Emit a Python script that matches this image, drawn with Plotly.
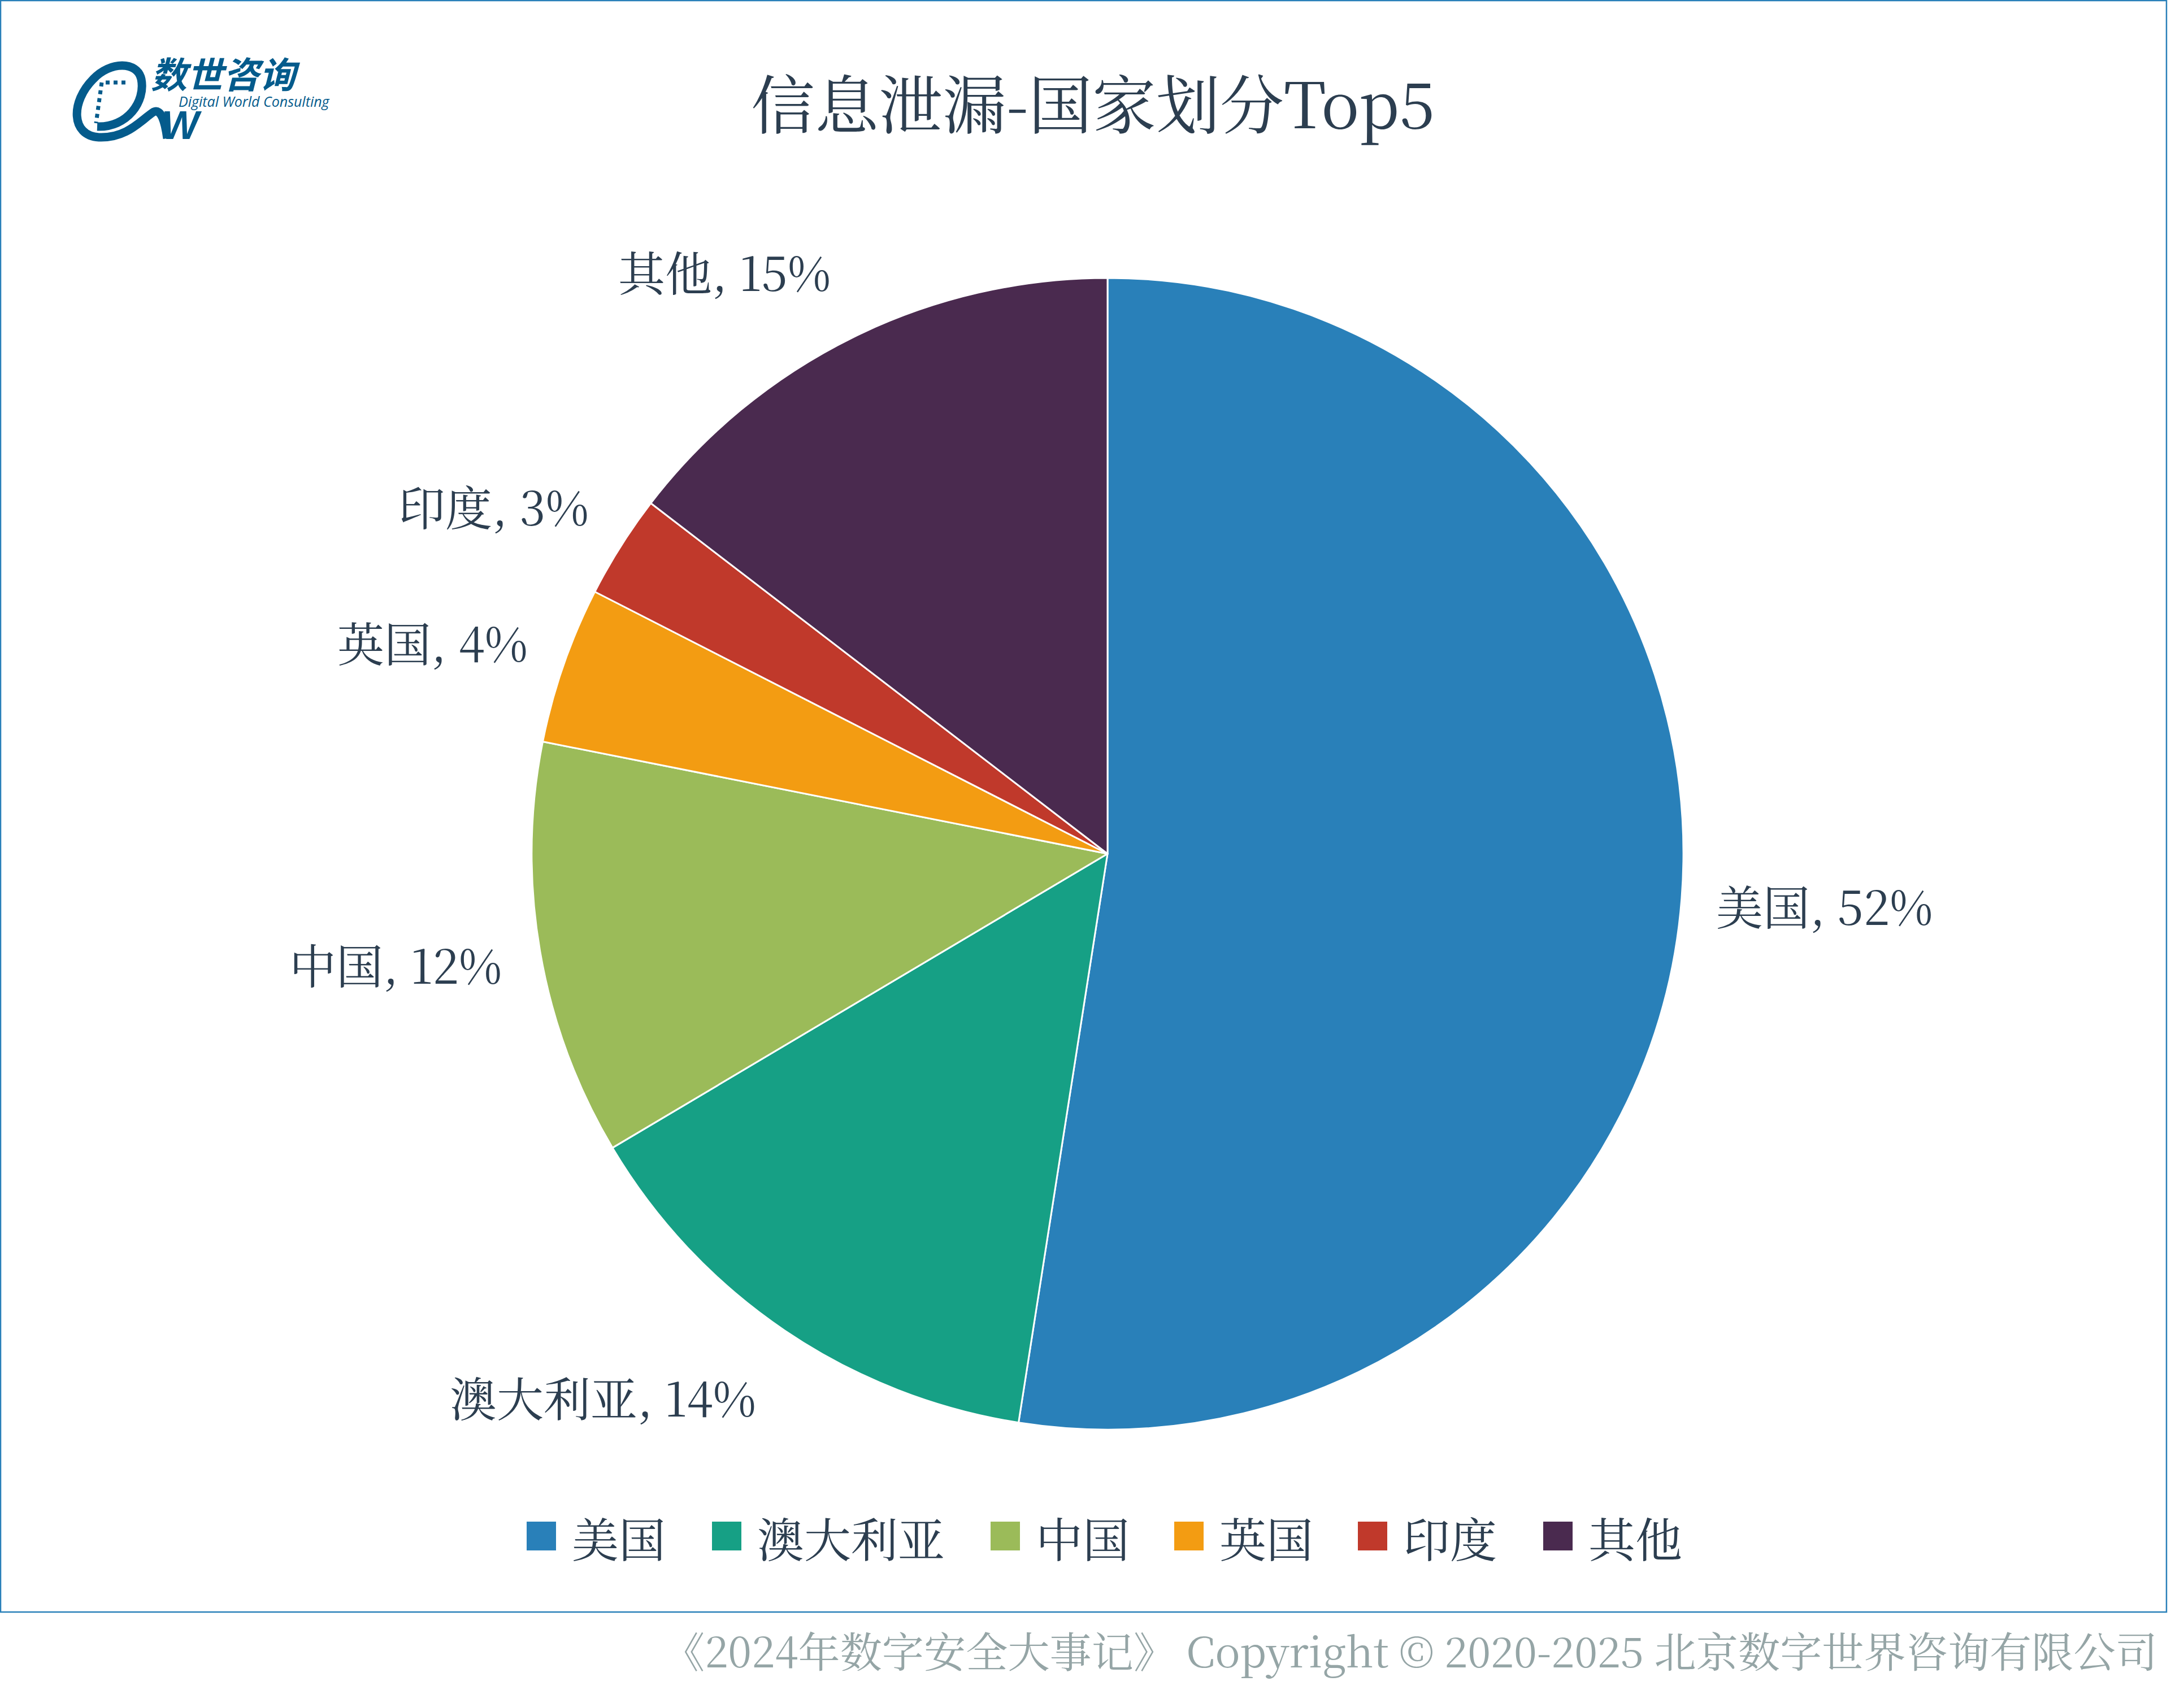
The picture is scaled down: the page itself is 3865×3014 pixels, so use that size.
import plotly.graph_objects as go

W, H = 3865, 3014

labels = ["美国", "澳大利亚", "中国", "英国", "印度", "其他"]
values = [52.47, 14.0, 11.65, 4.4, 2.9, 14.58]
colors = ["#2980b9", "#16a085", "#9bbb59", "#f39c12", "#c0392b", "#4a2a4f"]

title = "信息泄漏-国家划分Top5"
footer = "《2024年数字安全大事记》 Copyright © 2020-2025 北京数字世界咨询有限公司"

# serif first, the CJK sans is only the fallback
serif = "Noto Serif CJK SC, Liberation Serif, Noto Sans CJK SC"
logo_font = "Noto Sans CJK SC"
ink = "#2c3e50"
logo_blue = "#045b8c"

# px positions, same order as labels
legend_x = [932, 1260, 1753, 2078, 2403, 2731]
label_x = [3229, 1067, 700, 765, 873, 1282]
label_y = [1601, 2471, 1705, 1135, 894, 479]

# pie centre and radius in px
cx, cy, radius = 1960, 1511, 1019


def px(x):
    return x / W


def py(y):
    return 1 - y / H


def path(*steps):
    return " ".join(f"{s[0]} " + " ".join(f"{px(a)} {py(b)}" for a, b in s[1:]) for s in steps)


def note(text, x, y, size, color, family=serif, xanchor="center"):
    return dict(text=text, x=px(x), y=py(y), xref="paper", yref="paper", showarrow=False,
                xanchor=xanchor, yanchor="middle", font=dict(family=family, size=size, color=color))


fig = go.Figure()

fig.add_trace(go.Pie(
    labels=labels,
    values=values,
    sort=False,
    direction="clockwise",
    rotation=0,
    marker=dict(colors=colors, line=dict(color="white", width=3)),
    textinfo="none",
    domain=dict(x=[px(cx - radius), px(cx + radius)], y=[py(cy + radius), py(cy - radius)]),
    showlegend=False,
))

shapes = [
    # frame
    dict(type="rect", xref="paper", yref="paper", x0=px(1), x1=px(3834), y0=py(2853), y1=py(1),
         line=dict(color="#2980b9", width=2.5), fillcolor="rgba(0,0,0,0)"),
    # logo swirl, runs from inner stroke round the ring into the W
    dict(type="path", xref="paper", yref="paper",
         path=path(("M", (172, 224)), ("C", (225, 226), (258, 180), (250, 140)),
                   ("C", (243, 108), (195, 108), (165, 140)),
                   ("C", (125, 180), (125, 240), (175, 243)),
                   ("C", (225, 245), (250, 212), (272, 198)),
                   ("C", (285, 192), (292, 215), (296, 245))),
         line=dict(color=logo_blue, width=15)),
    # pixelated D inside the ring
    dict(type="path", xref="paper", yref="paper",
         path=path(("M", (222, 146)), ("L", (180, 146)), ("L", (170, 218))),
         line=dict(color=logo_blue, width=7, dash="dot")),
]

annotations = [
    note(title, 1934, 178, 113, ink),
    note(footer, 3820, 2919, 74.2, "#95a5a6", xanchor="right"),
    note("<b><i>数世咨询</i></b>", 265, 128, 64, logo_blue, logo_font, "left"),
    note("<i>Digital World Consulting</i>", 314, 179, 25, logo_blue, "Open Sans", "left"),
    note("<b><i>W</i></b>", 322, 222, 70, logo_blue, "Liberation Sans"),
]

total = sum(values)
for name, v, x, y in zip(labels, values, label_x, label_y):
    annotations.append(note(f"{name}, {100 * v / total:.0f}%", x, y, 83, ink))

for name, color, x in zip(labels, colors, legend_x):
    shapes.append(dict(type="rect", xref="paper", yref="paper", x0=px(x), x1=px(x + 52),
                       y0=py(2744), y1=py(2693), fillcolor=color, line=dict(width=0)))
    annotations.append(note(name, x + 78, 2720, 83, ink, xanchor="left"))

fig.update_layout(
    width=W,
    height=H,
    paper_bgcolor="white",
    margin=dict(l=0, r=0, t=0, b=0, autoexpand=False),
    shapes=shapes,
    annotations=annotations,
)

# the browser's default body margin would shift everything by 8px
fig.write_html("out.html", post_script="document.body.style.margin='0';",
               config=dict(displayModeBar=False))
